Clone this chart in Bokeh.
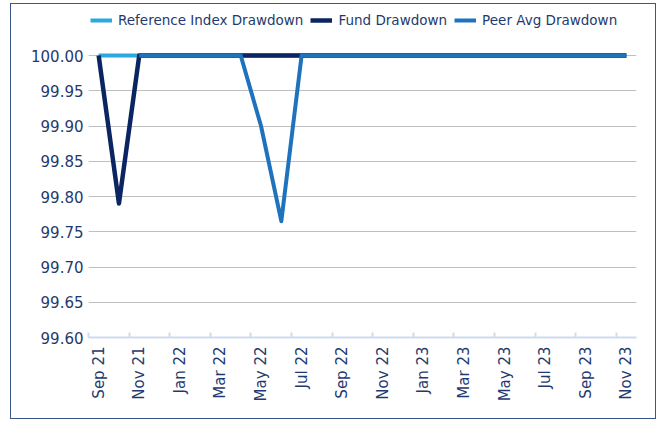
import math
from bokeh.plotting import figure
from bokeh.models import ColumnDataSource, Range1d, FixedTicker, NumeralTickFormatter, Legend, LegendItem
from bokeh.embed import file_html
from bokeh.resources import INLINE

months = ["Sep 21", "Oct 21", "Nov 21", "Dec 21", "Jan 22", "Feb 22", "Mar 22",
          "Apr 22", "May 22", "Jun 22", "Jul 22", "Aug 22", "Sep 22", "Oct 22",
          "Nov 22", "Dec 22", "Jan 23", "Feb 23", "Mar 23", "Apr 23", "May 23",
          "Jun 23", "Jul 23", "Aug 23", "Sep 23", "Oct 23", "Nov 23"]

reference_index = [100.00, 100.00, 100.00, 100.00, 100.00, 100.00, 100.00,
                   100.00, 100.00, 100.00, 100.00, 100.00, 100.00, 100.00,
                   100.00, 100.00, 100.00, 100.00, 100.00, 100.00, 100.00,
                   100.00, 100.00, 100.00, 100.00, 100.00, 100.00]

fund = [100.00, 99.79, 100.00, 100.00, 100.00, 100.00, 100.00,
        100.00, 100.00, 100.00, 100.00, 100.00, 100.00, 100.00,
        100.00, 100.00, 100.00, 100.00, 100.00, 100.00, 100.00,
        100.00, 100.00, 100.00, 100.00, 100.00, 100.00]

NA = float("nan")
peer_avg = [NA, NA, 100.00, 100.00, 100.00, 100.00, 100.00,
            100.00, 99.90, 99.765, 100.00, 100.00, 100.00, 100.00,
            100.00, 100.00, 100.00, 100.00, 100.00, 100.00, 100.00,
            100.00, 100.00, 100.00, 100.00, 100.00, 100.00]

y_ticks = [99.60, 99.65, 99.70, 99.75, 99.80, 99.85, 99.90, 99.95, 100.00]

TEXT = "#1F3A6E"
FONT = "DejaVu Sans"

x = list(range(len(months)))
src = ColumnDataSource(dict(x=x, ref=reference_index, fund=fund, peer=peer_avg))

# frame extends above the 100.00 line to leave room for the legend inside it
p = figure(width=646, height=416, output_backend="svg", toolbar_location=None,
           x_range=Range1d(-0.5, len(months) - 0.5), y_range=Range1d(99.60, 100.0667),
           min_border_left=77, min_border_right=21, min_border_top=4, min_border_bottom=83)
p.styles = {"border": "1px solid #3A5589", "margin-left": "10px", "margin-top": "3px"}
p.outline_line_color = None
p.background_fill_color = "white"
p.border_fill_color = "white"

r_ref = p.line("x", "ref", source=src, line_color="#2BA8E0", line_width=4, line_join="round")
r_fund = p.line("x", "fund", source=src, line_color="#0B2462", line_width=4.5, line_join="round")
r_peer = p.line("x", "peer", source=src, line_color="#1F73BD", line_width=4, line_join="round")

# x axis
ticks = list(range(0, len(months), 2))
p.xaxis.ticker = FixedTicker(ticks=ticks, minor_ticks=[t - 0.5 for t in ticks])
p.xaxis.major_label_overrides = {t: months[t] for t in ticks}
p.xaxis.major_label_orientation = math.pi / 2
p.xaxis.major_tick_in = 0
p.xaxis.major_tick_out = 0
p.xaxis.minor_tick_in = 5
p.xaxis.minor_tick_out = 0
p.xaxis.minor_tick_line_color = "#D0DBEE"
p.xaxis.minor_tick_line_width = 2
p.xaxis.axis_line_color = "#D0DBEE"
p.xaxis.axis_line_width = 2
p.xaxis.major_label_standoff = 9
p.xaxis.major_label_text_font = FONT
p.xaxis.major_label_text_font_size = "15px"
p.xaxis.major_label_text_color = TEXT
p.xgrid.grid_line_color = None

# y axis
p.yaxis.ticker = FixedTicker(ticks=y_ticks)
p.yaxis.formatter = NumeralTickFormatter(format="0.00")
p.yaxis.axis_line_color = None
p.yaxis.major_tick_in = 0
p.yaxis.major_tick_out = 0
p.yaxis.minor_tick_line_color = None
p.yaxis.major_label_standoff = 5
p.yaxis.major_label_text_font = FONT
p.yaxis.major_label_text_font_size = "15px"
p.yaxis.major_label_text_color = TEXT
p.ygrid.grid_line_color = "#BFBFBF"
p.ygrid.grid_line_width = 1

legend = Legend(items=[LegendItem(label="Reference Index Drawdown", renderers=[r_ref]),
                       LegendItem(label="Fund Drawdown", renderers=[r_fund]),
                       LegendItem(label="Peer Avg Drawdown", renderers=[r_peer])],
                orientation="horizontal", location=(2, 307))
legend.padding = 0
legend.margin = 0
legend.spacing = 7
legend.label_standoff = 6
legend.glyph_width = 22
legend.glyph_height = 20
legend.label_height = 20
legend.border_line_color = None
legend.background_fill_alpha = 0
legend.label_text_font = FONT
legend.label_text_font_size = "13.5px"
legend.label_text_color = TEXT
p.add_layout(legend, "center")

open("out.html", "w").write(file_html(p, INLINE))
